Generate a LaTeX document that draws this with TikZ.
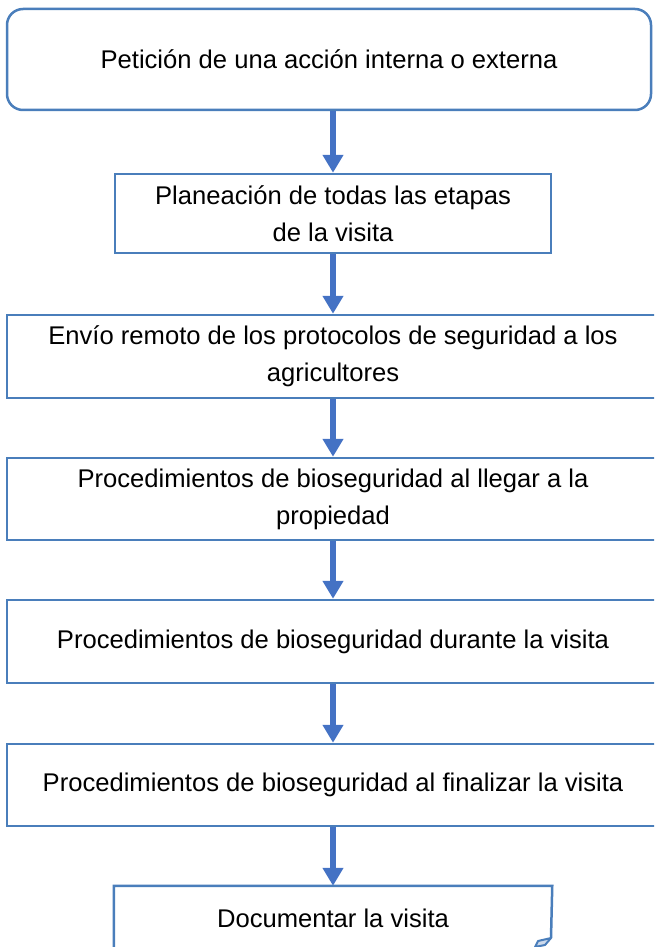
\documentclass[tikz,border=0pt]{standalone}
\usepackage{fontspec}
\setmainfont{Liberation Sans}
\usetikzlibrary{arrows.meta, positioning}

\definecolor{lineblue}{RGB}{74,126,187}
\definecolor{arrowblue}{RGB}{68,114,196}
\definecolor{foldblue}{RGB}{205,218,236}

\begin{document}
\begin{tikzpicture}[x=0.5pt, y=-0.5pt,
  startbox/.style={rectangle, rounded corners=8pt, minimum width=322pt, minimum height=50.5pt, text centered, align=center, draw=lineblue, line width=1.25pt, font=\fontsize{12.8}{18.5}\selectfont},
  smallbox/.style={rectangle, minimum width=218pt, minimum height=39.5pt, text centered, align=center, draw=lineblue, line width=1.25pt, font=\fontsize{12.8}{18.5}\selectfont},
  widebox/.style={rectangle, minimum width=326pt, minimum height=41.5pt, text centered, align=center, draw=lineblue, line width=1.25pt, font=\fontsize{12.8}{18.5}\selectfont},
  arrow/.style={draw=arrowblue, line width=3pt, -{Triangle[width=10pt, length=9pt]}}]

  \path[use as bounding box, clip] (0,0) rectangle (654,947);

  % Nodes
  \node (peticion) [startbox] at (329,59.5) {Petición de una acción interna o externa};
  \node (planeacion) [smallbox] at (333,213.5) {Planeación de todas las etapas \\ de la visita};
  \node (envio) [widebox] at (333,356.5) {Envío remoto de los protocolos de seguridad a los \\ agricultores};
  \node (llegar) [widebox, minimum height=41pt] at (333,499) {Procedimientos de bioseguridad al llegar a la \\ propiedad};
  \node (durante) [widebox] at (333,641.5) {Procedimientos de bioseguridad durante la visita};
  \node (finalizar) [widebox, minimum height=41pt] at (333,785) {Procedimientos de bioseguridad al finalizar la visita};
  \node (documentar) [smallbox, draw=none, minimum height=40pt, text height=9.5pt, text depth=9.5pt] at (333,927) {Documentar la visita};

  % Document outline with the curled corner
  \coordinate (foldTop) at (551,938);
  \draw [lineblue, line width=1.25pt] (documentar.south west) -- (documentar.north west) -- (documentar.north east) -- (foldTop);
  \filldraw [draw=lineblue, fill=foldblue, line width=1pt, line join=round] (foldTop) -- (538,941) -- (535,947) -- (545,945) -- cycle;

  % Arrows
  \draw [arrow] (peticion.south -| planeacion.north) -- (planeacion.north);
  \draw [arrow] (planeacion) -- (envio);
  \draw [arrow] (envio) -- (llegar);
  \draw [arrow] (llegar) -- (durante);
  \draw [arrow] (durante) -- (finalizar);
  \draw [arrow] (finalizar) -- (documentar.north);
\end{tikzpicture}
\end{document}
